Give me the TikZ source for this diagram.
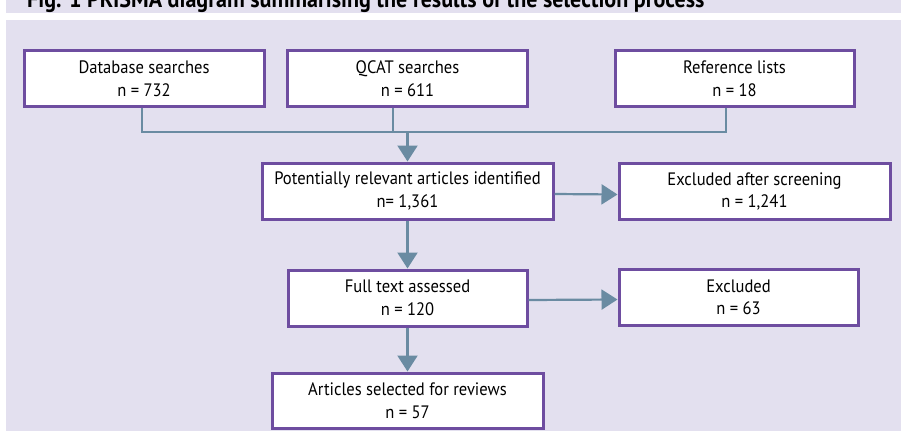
\documentclass[tikz,border=0pt]{standalone}
\usepackage{fontspec}
\setmainfont[FakeStretch=0.92]{PT Sans}
\usetikzlibrary{arrows.meta}
\usetikzlibrary{positioning}
\definecolor{panel}{HTML}{E3E0EF}
\definecolor{boxline}{HTML}{6E4DA0}
\definecolor{linkline}{HTML}{6A8BA2}
\tikzset{
  box/.style={
    draw=boxline, fill=white, line width=3pt,
    align=center, inner sep=0pt,
    minimum height=56pt,
    font=\fontsize{18}{22.5}\selectfont
  },
  link/.style={draw=linkline, line width=2.2pt},
  arrow/.style={link, -{Triangle[width=20pt,length=16pt]}}
}
\begin{document}
\begin{tikzpicture}[x=1pt,y=-1pt]
      \useasboundingbox (0,0) rectangle (901,431);
      \fill[white] (0,0) rectangle (901,431);
      \begin{scope}
        \clip (0,0) rectangle (901,431);
        \fill[panel] (6,0) rectangle (901,13);
        \node[anchor=base west, inner sep=0, font=\fontsize{24}{28}\selectfont\bfseries] (title)
          at (27,7) {Fig. 1 PRISMA diagram summarising the results of the selection process};
      \end{scope}
      \fill[panel] (6,20) rectangle (901,431);

      % sources
      \node[box, minimum width=240pt] (db) at (144,78.5) {Database searches\\n = 732};
      \node[box, minimum width=240pt] (qcat) at (407.5,78.5) {QCAT searches\\n = 611};
      \node[box, minimum width=239pt] (ref) at (734.5,78.5) {Reference lists\\n = 18};

      % flow
      \node[box, minimum width=291pt] (pot) at (407.5,191) {Potentially relevant articles identified\\n= 1,361};
      \node[box, minimum width=271pt] (exs) at (754.5,191.5) {Excluded after screening\\n = 1,241};
      \node[box, minimum width=239pt] (full) at (407.5,298) {Full text assessed\\n = 120};
      \node[box, minimum width=239pt] (exc) at (738.5,297.5) {Excluded\\n = 63};
      \node[box, minimum width=271pt, minimum height=55pt] (art) at (407.5,400.5) {Articles selected for reviews\\n = 57};

      \coordinate (join) at (407.5,131);
      \draw[link] ([xshift=-2pt]db.south) -- ++(0,24) -| ([xshift=-8.5pt]ref.south);
      \draw[link] ([xshift=-14.5pt]qcat.south) -- ++(0,24);
      \draw[arrow] (join) -- (pot);
      \draw[arrow] ([yshift=-3pt]pot.east) -- ([yshift=-3pt]exs.west);
      \draw[arrow] (pot) -- (full);
      \draw[arrow] ([yshift=-2pt]full.east) -- ([yshift=-2pt]exc.west);
      \draw[arrow] (full) -- (art);
    \end{tikzpicture}
\end{document}
